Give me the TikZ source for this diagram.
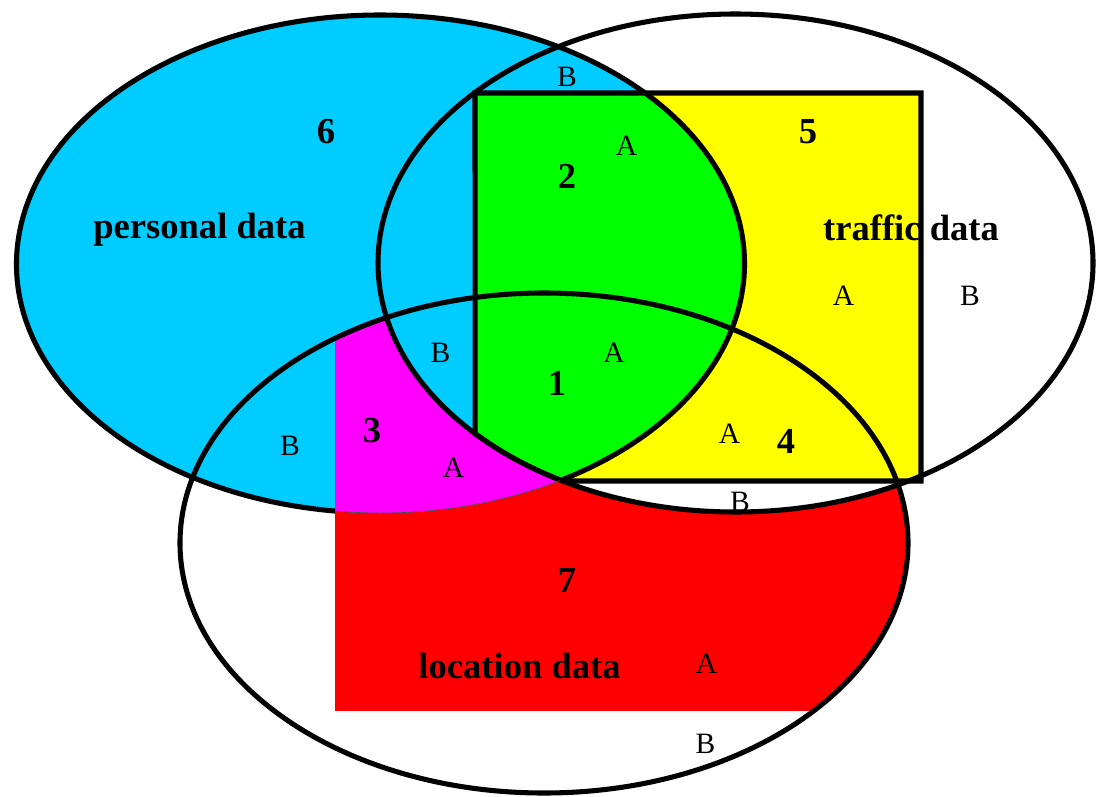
\documentclass[tikz,border=0pt]{standalone}
\usepackage{fontspec}
\setmainfont{Liberation Serif}
\definecolor{persblue}{HTML}{00CCFF}
\definecolor{trafyellow}{HTML}{FFFF00}
\definecolor{bothgreen}{HTML}{00FF00}
\definecolor{locmagenta}{HTML}{FF00FF}
\definecolor{locred}{HTML}{FF0000}

\begin{document}
\begin{tikzpicture}[x=0.025cm, y=-0.025cm,
  outline/.style={draw=black, line width=3.6pt},
  persell/.style={x radius=364, y radius=249},
  trafell/.style={x radius=357.5, y radius=249},
  locell/.style={x radius=364, y radius=250},
  region/.style={inner sep=0pt, anchor=base, font=\fontsize{26}{30}\selectfont\bfseries},
  tag/.style={inner sep=0pt, anchor=base, font=\fontsize{21}{24}\selectfont}]

\useasboundingbox (0,0) rectangle (1096,796);
\coordinate (pc) at (380.5,264);
\coordinate (tc) at (735.5,263);
\coordinate (lc) at (544,543);

\begin{scope}
  \clip (lc) ellipse [locell];
  \fill[locred] (335,0) rectangle (1100,711);
\end{scope}
\fill[white] (tc) ellipse [trafell];
\fill[persblue] (pc) ellipse [persell];
\fill[trafyellow] (475,93) rectangle (921,481);
\begin{scope}
  \clip (pc) ellipse [persell];
  \clip (lc) ellipse [locell];
  \fill[locmagenta] (335,0) rectangle (1100,800);
\end{scope}
\begin{scope}
  \clip (pc) ellipse [persell];
  \clip (tc) ellipse [trafell];
  \fill[persblue] (0,0) rectangle (1100,800);
  \fill[bothgreen] (475,93) rectangle (921,481);
\end{scope}

\draw[outline] (tc) ellipse [trafell];
\draw[outline] (lc) ellipse [locell];
\draw[outline] (335,511.05) arc[start angle=97.18, end angle=420.45, persell];
\draw[outline] (475,93) -- (921,93) -- (921,481) -- (562.8,481)
  arc[start angle=118.9, end angle=136.77, trafell] -- cycle;
\draw[line width=0.5pt, black!70] (335,511.05) arc[start angle=97.18, end angle=60.45, persell];

\node[region] (six) at (326,143) {6};
\node[region] (personal) at (199.5,238) {personal data};
\node[tag] (b6) at (567,86) {B};
\node[tag] (a2) at (626.5,155) {A};
\node[region] (two) at (567,188) {2};
\node[region] (five) at (808,143) {5};
\node[region] (traffic) at (911,240.5) {traffic data};
\node[tag] (a5) at (843.5,305) {A};
\node[tag] (b5) at (970,305) {B};
\node[tag] (b1) at (440.5,362) {B};
\node[tag] (a1) at (614,362) {A};
\node[region] (one) at (557,395) {1};
\node[region] (three) at (372,442) {3};
\node[tag] (b3) at (290,455) {B};
\node[tag] (a3) at (453.5,477) {A};
\node[tag] (a4) at (729.5,443) {A};
\node[region] (four) at (786,453) {4};
\node[tag] (b4) at (740,511) {B};
\node[region] (seven) at (567,592) {7};
\node[region] (location) at (519.5,678) {location data};
\node[tag] (a7) at (706.5,673) {A};
\node[tag] (b7) at (705.5,753) {B};
\end{tikzpicture}
\end{document}
